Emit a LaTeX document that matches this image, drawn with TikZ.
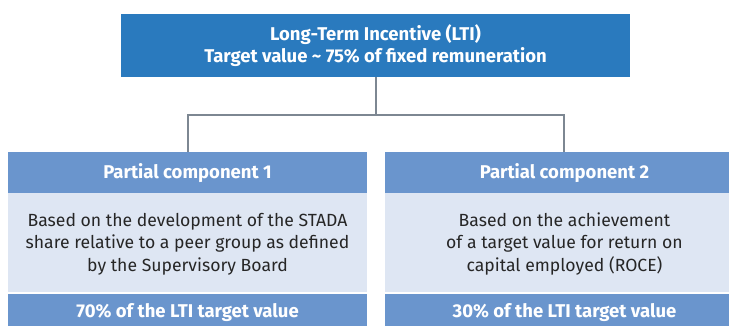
\documentclass[tikz,border=0pt]{standalone}
\usepackage{fontspec}
\setmainfont{Fira Sans}
\definecolor{topblue}{HTML}{2A7ABE}
\definecolor{midblue}{HTML}{6A95CD}
\definecolor{paleblue}{HTML}{DEE6F3}
\definecolor{linegray}{HTML}{7D8792}
\tikzset{
  hdr/.style={text=white, font=\fontsize{18.5}{22}\selectfont\bfseries, align=center, inner sep=0pt},
  bodytxt/.style={text=black!85, font=\fontsize{17.6}{22.5}\selectfont, align=center, inner sep=0pt},
  conn/.style={draw=linegray, line width=1.6pt},
}
\begin{document}
\begin{tikzpicture}[x=1pt,y=-1pt]
\useasboundingbox (0,0) rectangle (729,325);
\begin{scope}
\clip (0,0) rectangle (729,325);
% top box
\fill[topblue] (121,14) rectangle (630,77);
\node[hdr] (top) at (375.5,46) {Long-Term Incentive (LTI)\\Target value \textasciitilde\ 75\% of fixed remuneration};
% left component
\fill[midblue] (8,152) rectangle (367,193);
\fill[paleblue] (8,193) rectangle (367,292);
\fill[midblue] (8,294) rectangle (367,335);
\node[hdr] (h1) at (187.5,173) {Partial component 1};
\node[bodytxt] (b1) at (187.5,244) {Based on the development of the STADA\\share relative to a peer group as defined\\by the Supervisory Board};
\node[hdr] (f1) at (187.5,313) {70\% of the LTI target value};
% right component
\fill[midblue] (385,152) rectangle (744,193);
\fill[paleblue] (385,193) rectangle (744,292);
\fill[midblue] (385,294) rectangle (744,335);
\node[hdr] (h2) at (564.5,173) {Partial component 2};
\node[bodytxt] (b2) at (564.5,244) {Based on the achievement\\of a target value for return on\\capital employed (ROCE)};
\node[hdr] (f2) at (564.5,313) {30\% of the LTI target value};
% connectors
\coordinate (ctop) at (376,77);
\coordinate (cmid) at (376,115);
\coordinate (cl) at (188,115);
\coordinate (cr) at (564,115);
\coordinate (cl2) at (188,152);
\coordinate (cr2) at (564,152);
\draw[conn] (ctop) -- (cmid);
\draw[conn] (cl2) -- (cl) -- (cr) -- (cr2);
\end{scope}
\end{tikzpicture}
\end{document}
